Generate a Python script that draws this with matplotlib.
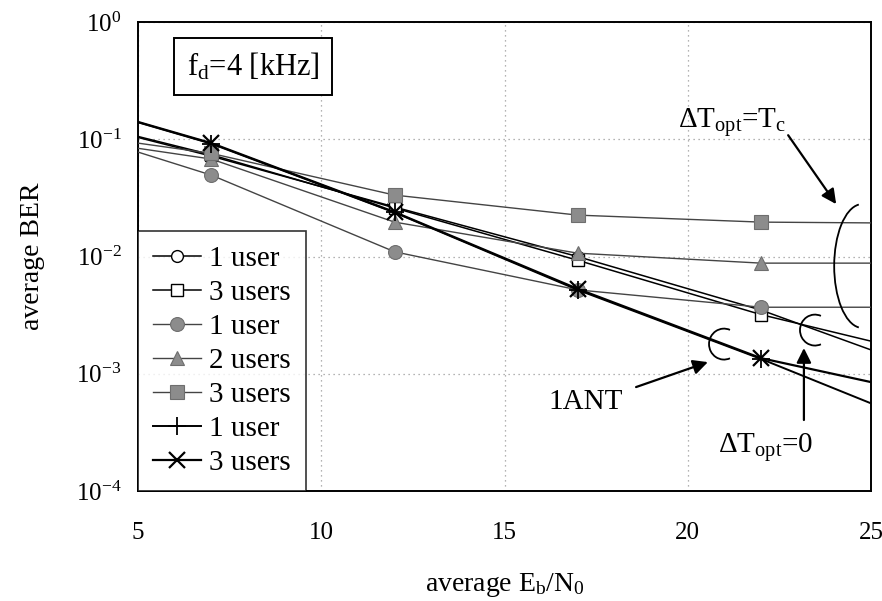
import math
import matplotlib
matplotlib.use("Agg")
import matplotlib.pyplot as plt
from matplotlib.patches import Arc
from matplotlib.ticker import FixedLocator, FuncFormatter, NullLocator

plt.rcParams['font.family'] = ['Liberation Serif', 'DejaVu Serif']
plt.rcParams['mathtext.fontset'] = 'custom'
plt.rcParams['mathtext.rm'] = 'Liberation Serif'
plt.rcParams['mathtext.it'] = 'Liberation Serif:italic'
plt.rcParams['mathtext.bf'] = 'Liberation Serif:bold'

# Eb/N0 [dB]: curves span the whole axis, markers sit at the simulated points
ebn0 = [5, 7, 12, 17, 22, 25]
marked = [1, 2, 3, 4]

# Delta T_opt = 0 (open markers)
ber_dt0_1user = [0.104, 0.072, 0.0265, 0.0100, 0.0035, 0.00160]
ber_dt0_3users = [0.106, 0.074, 0.0260, 0.0093, 0.0032, 0.00190]
# Delta T_opt = Tc (filled markers)
ber_tc_1user = [0.078, 0.0496, 0.0110, 0.0052, 0.0037, 0.0037]
ber_tc_2users = [0.084, 0.068, 0.0197, 0.0107, 0.0088, 0.0088]
ber_tc_3users = [0.093, 0.076, 0.0335, 0.0226, 0.0197, 0.0194]
# single antenna reference
ber_1ant_1user = [0.140, 0.092, 0.0238, 0.0052, 0.00134, 0.00056]
ber_1ant_3users = [0.141, 0.093, 0.0240, 0.0053, 0.00136, 0.00085]

labels = ['1 user', '3 users', '1 user', '2 users', '3 users', '1 user', '3 users']
ytick_vals = [1e-4, 1e-3, 1e-2, 1e-1, 1e0]
xtick_vals = [5, 10, 15, 20, 25]

fig = plt.figure(figsize=(8.82, 6.01), dpi=100)
ax = fig.add_axes([0.1565, 0.183, 0.831, 0.780])

gray_face = '#8c8c8c'
gray_edge = '#6e6e6e'
tc_line = '#444444'

styles = [
    (ber_dt0_1user, dict(color='black', lw=1.1, marker='o', ms=8.5,
                         mfc='white', mec='black', mew=1.0)),
    (ber_dt0_3users, dict(color='black', lw=1.1, marker='s', ms=8.5,
                          mfc='white', mec='black', mew=1.0)),
    (ber_tc_1user, dict(color=tc_line, lw=1.0, marker='o', ms=10,
                        mfc=gray_face, mec=gray_edge, mew=0.8)),
    (ber_tc_2users, dict(color=tc_line, lw=1.0, marker='^', ms=10,
                         mfc=gray_face, mec=gray_edge, mew=0.8)),
    (ber_tc_3users, dict(color=tc_line, lw=1.0, marker='s', ms=10,
                         mfc=gray_face, mec=gray_edge, mew=0.8)),
    (ber_1ant_1user, dict(color='black', lw=1.4, marker='+', ms=13, mew=1.3)),
    (ber_1ant_3users, dict(color='black', lw=1.6, marker='x', ms=11, mew=1.6)),
]

handles = []
for (vals, kw), lab in zip(styles, labels):
    h, = ax.plot(ebn0, vals, markevery=marked, label=lab, zorder=3, **kw)
    handles.append(h)

ax.set_yscale('log')
ax.set_xlim(5, 25)
ax.set_ylim(1e-4, 1e0)
ax.yaxis.set_major_locator(FixedLocator(ytick_vals))
ax.yaxis.set_minor_locator(NullLocator())
ax.yaxis.set_major_formatter(FuncFormatter(lambda v, p: r'$10^{%d}$' % round(math.log10(v))))
ax.xaxis.set_major_locator(FixedLocator(xtick_vals))
ax.tick_params(axis='both', length=0, labelsize=18)
ax.tick_params(axis='y', pad=12)
ax.tick_params(axis='x', pad=22)

ax.grid(True, which='major', color='#9a9a9a', lw=0.9, linestyle=(0, (1, 3)))
for s in ax.spines.values():
    s.set_linewidth(1.4)
    s.set_color('black')

ax.set_xlabel(r'average E$_\mathrm{b}$/N$_0$', fontsize=20, labelpad=20)
ax.set_ylabel('average BER', fontsize=20, labelpad=22)

leg = ax.legend(handles=handles, loc='lower left', fontsize=21,
                frameon=True, fancybox=False, borderaxespad=0.0,
                handlelength=1.65, handletextpad=0.3, labelspacing=0.26,
                borderpad=0.5)
leg.get_frame().set_edgecolor('black')
leg.get_frame().set_linewidth(1.2)
leg.set_zorder(5)

# Doppler frequency box
ax.text(8.14, 0.42, r'f$_\mathrm{d}$=4 [kHz]', fontsize=22, ha='center', va='center',
        bbox=dict(boxstyle='square,pad=0.42', fc='white', ec='black', lw=1.4), zorder=6)

arrow_kw = dict(arrowstyle='-|>', mutation_scale=22, lw=1.6, color='black',
                shrinkA=0, shrinkB=0)

# Delta T_opt = Tc group
ax.text(21.2, 0.14, r'$\Delta$T$_\mathrm{opt}$=T$_\mathrm{c}$', fontsize=21,
        ha='center', va='center')
ax.annotate('', xy=(24.05, 10 ** -1.552), xytext=(22.74, 10 ** -0.964),
            arrowprops=arrow_kw)
ax.add_patch(Arc((0.988, 0.48), 0.0764, 0.264, theta1=92, theta2=268,
                 transform=ax.transAxes, lw=1.3, color='black', zorder=6))

# 1ANT group
ax.text(17.22, 10 ** -3.24, '1ANT', fontsize=21, ha='center', va='center')
ax.annotate('', xy=(20.55, 10 ** -2.90), xytext=(18.59, 10 ** -3.113),
            arrowprops=arrow_kw)
ax.add_patch(Arc((0.7995, 0.3134), 0.0409, 0.066, theta1=75, theta2=285,
                 transform=ax.transAxes, lw=1.3, color='black', zorder=6))

# Delta T_opt = 0 group
ax.text(22.13, 10 ** -3.625, r'$\Delta$T$_\mathrm{opt}$=0', fontsize=21,
        ha='center', va='center')
ax.annotate('', xy=(23.17, 10 ** -2.78), xytext=(23.17, 10 ** -3.394),
            arrowprops=arrow_kw)
ax.add_patch(Arc((0.9236, 0.3433), 0.0409, 0.066, theta1=75, theta2=285,
                 transform=ax.transAxes, lw=1.3, color='black', zorder=6))

fig.savefig('out.png', dpi=100)
